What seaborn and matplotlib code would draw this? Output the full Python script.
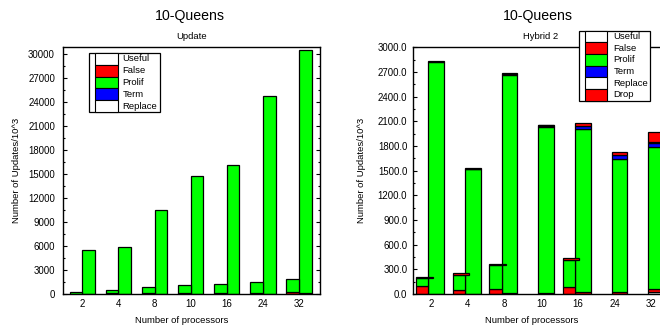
import numpy as np
import matplotlib
matplotlib.use("Agg")
import matplotlib.pyplot as plt
from matplotlib.patches import Rectangle
from matplotlib.ticker import MultipleLocator, FormatStrFormatter
import seaborn as sns

# ---------------------------------------------------------------- data
procs = ["2", "4", "8", "10", "16", "24", "32"]

# Update panel, left bar of each pair (values in units of 10^3 updates)
upd_a_false = [60, 100, 120, 150, 170, 180, 190]
upd_a_prolif = [230, 450, 720, 940, 1080, 1280, 1650]

# Update panel, right bar of each pair
upd_b_useful = [10, 10, 20, 30, 40, 60, 170]
upd_b_prolif = [5450, 5830, 10520, 14680, 16085, 24650, 30330]

# Hybrid 2 panel, left bar of each pair
hyb_a_false = [100, 45, 65, 0, 80, 0, 0]
hyb_a_prolif = [92, 183, 285, 0, 334, 0, 0]
hyb_a_replace = [12, 0, 10, 0, 0, 0, 0]
hyb_a_drop = [0, 30, 0, 0, 18, 0, 0]

# Hybrid 2 panel, right bar of each pair
hyb_b_useful = [0, 0, 0, 0, 0, 0, 30]
hyb_b_false = [0, 0, 10, 10, 30, 30, 35]
hyb_b_prolif = [2815, 1515, 2650, 2020, 1978, 1615, 1725]
hyb_b_term = [0, 0, 0, 10, 30, 45, 40]
hyb_b_replace = [0, 10, 15, 10, 0, 0, 20]
hyb_b_drop = [15, 5, 15, 5, 45, 40, 115]

key_labels_upd = ["Useful", "False", "Prolif", "Term", "Replace"]
key_labels_hyb = ["Useful", "False", "Prolif", "Term", "Replace", "Drop"]

C_USEFUL, C_FALSE, C_PROLIF, C_TERM, C_REPLACE, C_DROP = (
    "white", "#ff0000", "#00ff00", "#0000ff", "white", "#ff0000")
key_colors = [C_USEFUL, C_FALSE, C_PROLIF, C_TERM, C_REPLACE, C_DROP]

# ---------------------------------------------------------------- style
sns.set_theme(style="ticks")
plt.rcParams["font.family"] = ["Liberation Sans", "DejaVu Sans"]
plt.rcParams["text.color"] = "black"
plt.rcParams["axes.labelcolor"] = "black"
plt.rcParams["xtick.color"] = "black"
plt.rcParams["ytick.color"] = "black"

W, H = 660, 329
fig = plt.figure(figsize=(W / 100, H / 100), dpi=100)


def px_axes(l, t, r, b):
    return fig.add_axes([l / W, 1 - b / H, (r - l) / W, (b - t) / H])


ax1 = px_axes(63, 47, 319.5, 294)
ax2 = px_axes(412.7, 47, 669.2, 294)

idx = np.arange(len(procs))


def stack(ax, layers, colors, offset, width, base=None, bar_width=None):
    """Stack layers with seaborn bars centred at idx+offset."""
    base = np.zeros(len(procs)) if base is None else np.asarray(base, float).copy()
    for vals, col in zip(layers, colors):
        vals = np.asarray(vals, float)
        sns.barplot(x=idx + offset, y=vals, bottom=base.copy(), native_scale=True,
                    width=width, color=col, saturation=1, edgecolor="black",
                    linewidth=0.9, errorbar=None, ax=ax)
        base += vals
    return base


# Update panel: two equal bars meeting at each category position
w = 0.35
stack(ax1, [upd_b_useful, upd_b_prolif], [C_USEFUL, C_PROLIF], w / 2, w)
stack(ax1, [upd_a_false, upd_a_prolif], [C_FALSE, C_PROLIF], -w / 2, w)

# Hybrid 2 panel
wa, wb, wc = 0.335, 0.43, 0.45
stack(ax2, [hyb_b_useful, hyb_b_false, hyb_b_prolif, hyb_b_term, hyb_b_replace, hyb_b_drop],
      [C_USEFUL, C_FALSE, C_PROLIF, C_TERM, C_REPLACE, C_DROP], wb / 2, wb)
top_a = stack(ax2, [hyb_a_false, hyb_a_prolif], [C_FALSE, C_PROLIF], -wa / 2, wa)
# the thin top segments of the left bars are drawn wider than the bars
stack(ax2, [hyb_a_replace, hyb_a_drop], [C_REPLACE, C_DROP], -wa + wc / 2, wc, base=top_a)

for ax in (ax1, ax2):
    for p in list(ax.patches):
        if p.get_height() == 0:
            p.remove()

# ---------------------------------------------------------------- axes
ax1.set_xlim(-0.534, 6.567)
ax1.set_ylim(0, 30875)
ax1.yaxis.set_major_locator(MultipleLocator(3000))
ax1.yaxis.set_minor_locator(MultipleLocator(1500))
ax1.yaxis.set_major_formatter(FormatStrFormatter("%d"))
ax1.set_xticks(idx)
ax1.set_xticklabels(procs)

ax2.set_xlim(-0.425, 6.57)
ax2.set_ylim(0, 3003)
ax2.yaxis.set_major_locator(MultipleLocator(300))
ax2.yaxis.set_minor_locator(MultipleLocator(150))
ax2.yaxis.set_major_formatter(FormatStrFormatter("%.1f"))
ax2.set_xticks(idx + 0.08)
ax2.set_xticklabels(procs)

for ax, ypad, ylx, sub in ((ax1, 5.8, -0.162, "Update"), (ax2, 3.9, -0.182, "Hybrid 2")):
    for s in ax.spines.values():
        s.set_visible(True)
        s.set_color("black")
        s.set_linewidth(1.0)
    ax.tick_params(axis="y", which="both", direction="in", left=True, right=True,
                   labelsize=6.9, pad=ypad, width=0.8)
    ax.tick_params(axis="y", which="major", length=3)
    ax.tick_params(axis="y", which="minor", length=1.6)
    ax.tick_params(axis="x", length=0, labelsize=7, pad=3.6)
    ax.set_xlabel("Number of processors", fontsize=6.8)
    ax.set_ylabel("Number of Updates/10^3", fontsize=6.8)
    ax.xaxis.set_label_coords(0.463, -0.088)
    ax.yaxis.set_label_coords(ylx, 0.5)
    ax.text(0.5, 1 + (47 - 36.7) / 247, sub, transform=ax.transAxes,
            ha="center", va="center", fontsize=6.8)
    ax.grid(False)

fig.text(190 / W, 1 - 16 / H, "10-Queens", ha="center", va="center", fontsize=10.2)
fig.text(538 / W, 1 - 16 / H, "10-Queens", ha="center", va="center", fontsize=10.2)


# ---------------------------------------------------------------- keys
def draw_key(left, top, sw_left, sw_right, text_left, right, row_h, labels, colors):
    n = len(labels)
    bottom = top + n * row_h
    fig.add_artist(Rectangle((left / W, 1 - bottom / H), (right - left) / W, (bottom - top) / H,
                             transform=fig.transFigure, facecolor="white",
                             edgecolor="black", lw=0.9, zorder=10))
    for k, (lab, col) in enumerate(zip(labels, colors)):
        y0 = top + k * row_h
        fig.add_artist(Rectangle((sw_left / W, 1 - (y0 + row_h) / H), (sw_right - sw_left) / W,
                                 row_h / H, transform=fig.transFigure, facecolor=col,
                                 edgecolor="black", lw=0.8, zorder=11))
        fig.text(text_left / W, 1 - (y0 + row_h / 2) / H, lab, ha="left", va="center",
                 fontsize=6.8, zorder=12)


draw_key(89.3, 52.7, 94.8, 117.5, 122.7, 160, 11.9, key_labels_upd, key_colors[:5])
draw_key(579.3, 30.7, 585, 607.3, 613.3, 650, 11.67, key_labels_hyb, key_colors)

fig.savefig("out.png", dpi=100)
